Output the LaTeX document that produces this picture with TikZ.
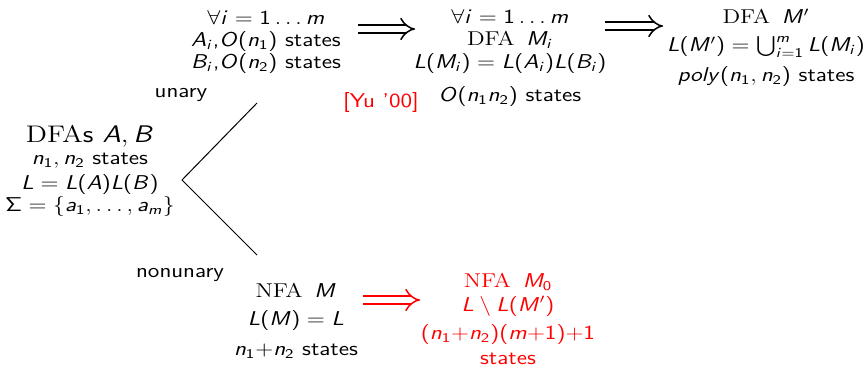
\documentclass[tikz,border=0pt]{standalone}
\usepackage{amsmath}
\usetikzlibrary{arrows.meta}
\DeclareSymbolFont{sfup}{OT1}{cmss}{m}{n}
\DeclareSymbolFont{sfit}{OT1}{cmss}{m}{sl}
\makeatletter
\def\sfletter#1{\DeclareMathSymbol{#1}{\mathalpha}{sfit}{`#1}}
\@tfor\@tmpl:=abcdefghijklmnopqrstuvwxyzABCDEFGHIJKLMNOPQRSTUVWXYZ\do{\expandafter\sfletter\expandafter{\@tmpl}}
\def\sfdigit#1{\DeclareMathSymbol{#1}{\mathalpha}{sfup}{`#1}}
\@tfor\@tmpl:=0123456789\do{\expandafter\sfdigit\expandafter{\@tmpl}}
\makeatother
\DeclareMathSymbol{+}{\mathbin}{sfup}{"2B}
\DeclareMathSymbol{=}{\mathrel}{sfup}{"3D}
\DeclareMathSymbol{(}{\mathopen}{sfup}{"28}
\DeclareMathSymbol{)}{\mathclose}{sfup}{"29}
\DeclareMathSymbol{\Sigma}{\mathalpha}{sfup}{"06}
\newcommand\tightlines{\lineskiplimit=-20pt\relax}
\tikzset{
  txt/.style={align=center, inner sep=0pt, xscale=1.18, font=\fontsize{12}{13}\selectfont\sffamily\tightlines},
  lbl/.style={inner sep=0pt, xscale=1.18, font=\fontsize{12}{13}\selectfont\sffamily},
  imp/.style={double, double distance=3.8pt, line width=0.9pt, -{Implies}},
  branch/.style={line width=0.6pt},
}
\begin{document}
\begin{tikzpicture}[x=0.6pt, y=-0.6pt]
\useasboundingbox (0,0) rectangle (866,365);
% nodes
\node[txt] (g1) at (266,42) {$\forall i=1\ldots m$\\ $A_i$,$O(n_1)$ states\\ $B_i$,$O(n_2)$ states};
\node[txt] (g2) at (510,58) {$\forall i=1\ldots m$\\[0.5pt] \textrm{DFA}\enspace$M_i$\\[0.5pt] $L(M_i)=L(A_i)L(B_i)$\\[7pt] $O(n_1n_2)$ states};
\node[txt] (g3) at (766,48) {\textrm{DFA}\enspace$M'$\\[4pt] $L(M')=\bigcup_{i=1}^m L(M_i)$\\[5pt] $poly(n_1,n_2)$ states};
\node[txt] (left) at (90,171) {{\fontsize{14.4}{15}\selectfont\textrm{DFA}s $A,B$}\\ $n_1,n_2$ states\\[2pt] $L=L(A)L(B)$\\ $\Sigma=\{a_1,\ldots,a_m\}$};
\node[txt] (bot) at (296,321) {\textrm{NFA}\enspace$M$\\[4pt] $L(M)=L$\\[5pt] $n_1{+}n_2$ states};
\node[txt, text=red] (res) at (508,319) {\textrm{NFA}\enspace$M_0$\\[1pt] $L\setminus L(M')$\\[4pt] $(n_1{+}n_2)(m{+}1){+}1$\\[2pt] states};
\node[lbl] (unary) at (181,95) {unary};
\node[lbl] (nonunary) at (180,275) {nonunary};
\node[lbl, text=red] (yu) at (381,103) {[Yu '00]};
% connector ends
\coordinate (tip) at (182,180);
\coordinate (up) at (257,103);
\coordinate (down) at (257,255);
\coordinate (a1s) at (358,29);
\coordinate (a1e) at (415,29);
\coordinate (a2s) at (605,26);
\coordinate (a2e) at (663,26);
\coordinate (a3s) at (363,300);
\coordinate (a3e) at (420,300);
% connectors
\draw[branch] (up) -- (tip) -- (down);
\draw[imp] (a1s) -- (a1e);
\draw[imp] (a2s) -- (a2e);
\draw[imp, red] (a3s) -- (a3e);
\end{tikzpicture}
\end{document}
